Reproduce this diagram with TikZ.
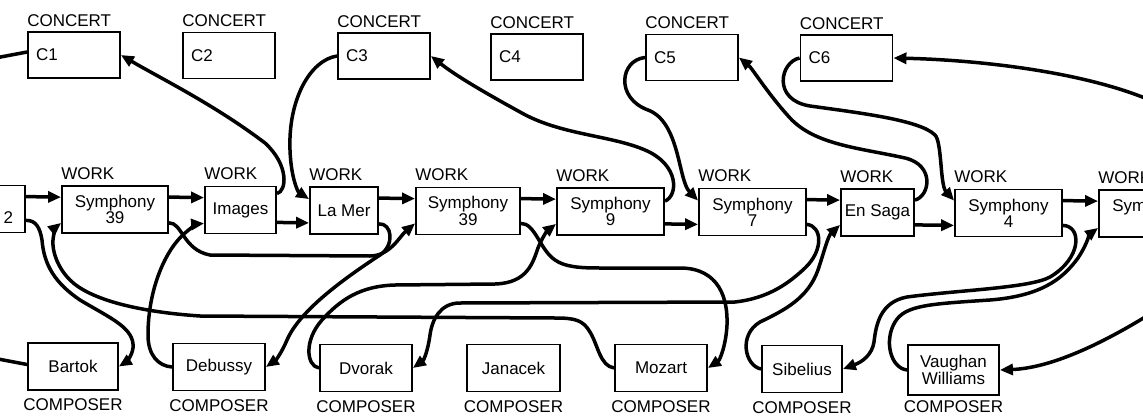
\documentclass[tikz,border=0pt]{standalone}
\usepackage{fontspec}
\setmainfont{Liberation Sans}
\usetikzlibrary{arrows.meta,calc}
\begin{document}
\begin{tikzpicture}[x=1pt,y=-1pt,
  box/.style={draw,line width=1.8pt,minimum height=47pt,inner sep=0pt,
    align=center,font=\fontsize{17}{15}\selectfont},
  concert/.style={draw,line width=1.8pt,minimum height=46pt,inner xsep=8pt,
    inner ysep=0pt,text width=76pt,align=left,font=\fontsize{17}{15}\selectfont},
  tag/.style={inner sep=0pt,font=\fontsize{17}{15}\selectfont},
  link/.style={line width=3.5pt,line join=round},
  arr/.style={link,-{Triangle[length=13pt,width=11pt]}}]

\useasboundingbox (0,0) rectangle (1143,415);
\fill[white] (0,0) rectangle (1143,415);
\clip (0,0) rectangle (1143,415);

% concerts
\node[concert] (C1) at (74,55)    {C1};
\node[concert] (C2) at (229,55.5) {C2};
\node[concert] (C3) at (384,56)   {C3};
\node[concert] (C4) at (537,57)   {C4};
\node[concert] (C5) at (692,57.5) {C5};
\node[concert] (C6) at (846.5,58) {C6};
\foreach \c in {C1,C2,C3,C4,C5,C6}
  \node[tag,anchor=base west] (l\c) at ([yshift=5pt]\c.north west) {CONCERT};

% works
\node[box,minimum width=107pt,text width=83pt,align=right] (W0) at (-28.5,209) {\vphantom{Sy}\\2};
\node[box,minimum width=106pt] (W1) at (115,209.5)  {Symphony\\39};
\node[box,minimum width=71pt]  (W2) at (240.5,210)  {Images};
\node[box,minimum width=68pt]  (W3) at (344,210.5)  {La Mer};
\node[box,minimum width=104pt] (W4) at (468,211)    {Symphony\\39};
\node[box,minimum width=107pt] (W5) at (610.5,211.5){Symphony\\9};
\node[box,minimum width=107pt] (W6) at (752.5,212)  {Symphony\\7};
\node[box,minimum width=73pt]  (W7) at (877.5,212.5){En Saga};
\node[box,minimum width=107pt] (W8) at (1008.5,213) {Symphony\\4};
\node[box,minimum width=107pt] (W9) at (1152.5,213.5){Symphony\\\vphantom{4}};
\foreach \w in {W1,W2,W3,W4,W5,W6,W7,W8,W9}
  \node[tag,anchor=base west] (l\w) at ([yshift=6pt]\w.north west) {WORK};

% composers
\node[box,minimum width=90pt] (P1) at (73,366.5) {Bartok};
\node[box,minimum width=92pt] (P2) at (219,367)  {Debussy};
\node[box,minimum width=92pt] (P3) at (366,368)  {Dvorak};
\node[box,minimum width=93pt] (P4) at (513.5,368){Janacek};
\node[box,minimum width=92pt] (P5) at (661,368)  {Mozart};
\node[box,minimum width=80pt] (P6) at (802,369)  {Sibelius};
\node[box,minimum width=91pt,minimum height=50pt,font=\fontsize{17}{17}\selectfont]
  (P7) at (953.5,370) {Vaughan\\Williams};
\foreach \p in {P1,P2,P3,P4,P5,P6}
  \node[tag,anchor=north] (l\p) at ([yshift=-8pt]\p.south) {COMPOSER};
\node[tag,anchor=north] (lP7) at ([yshift=-4.5pt]P7.south) {COMPOSER};

% free ends of chains running past the edges
\coordinate (eC1) at (-2,57.5);
\coordinate (eP1) at (-2,359);
\coordinate (eC6) at (1152,101);
\coordinate (eP7) at (1150,314);

% concert chains (upper links)
\draw[link] (eC1) -- ($(C1.west)+(0,-3)$);
\draw[arr] ($(W0.north east)+(0,12)$) -- ($(W1.north west)+(0,12)$);
\draw[arr] ($(W1.north east)+(0,12)$) -- ($(W2.north west)+(0,12)$);
\draw[arr] ($(W2.north east)+(0,8)$) .. controls (287,191) and (289,165) .. (265,143)
  .. controls (215,105) and (160,78) .. (C1.east);

\draw[arr] (C3.west) .. controls (310,60) and (288,100) .. (290,150)
  .. controls (291,178) and (298,192) .. ($(W3.north west)+(0,13)$);
\draw[arr] ($(W3.north east)+(0,12)$) -- ($(W4.north west)+(0,12)$);
\draw[arr] ($(W4.north east)+(0,12)$) -- ($(W5.north west)+(0,12)$);
\draw[arr] ($(W5.north east)+(0,14)$) .. controls (678,196) and (680,165) .. (645,150)
  .. controls (610,135) and (560,135) .. (520,112)
  .. controls (480,90) and (455,75) .. (C3.east);

\draw[arr] (C5.west) .. controls (620,60) and (615,98) .. (648,110)
  .. controls (680,122) and (678,180) .. ($(W6.north west)+(0,13)$);
\draw[arr] ($(W6.north east)+(0,12)$) -- ($(W7.north west)+(0,12)$);
\draw[arr] ($(W7.north east)+(0,12)$) .. controls (930,196) and (935,165) .. (905,158)
  .. controls (860,148) and (815,145) .. (790,118)
  .. controls (768,94) and (752,68) .. (C5.east);

\draw[arr] (C6.west) .. controls (780,62) and (772,100) .. (810,106)
  .. controls (860,113) and (920,120) .. (935,135)
  .. controls (942,142) and (940,185) .. ($(W8.north west)+(0,12)$);
\draw[arr] ($(W8.north east)+(0,12)$) -- ($(W9.north west)+(0,12)$);
\draw[arr] (eC6) .. controls (1085,72) and (980,60) .. (C6.east);

% composer chains (lower links)
\draw[link] (eP1) -- ($(P1.west)+(0,-2)$);
\draw[arr] ($(W0.south east)+(0,-13)$) .. controls (36,220) and (40,228) .. (42,240)
  .. controls (44,265) and (55,283) .. (80,300)
  .. controls (110,318) and (135,328) .. (133,348)
  .. controls (132,356) and (126,362) .. (P1.east);

\draw[arr] (P2.west) .. controls (158,366) and (148,355) .. (148,335)
  .. controls (148,290) and (165,250) .. (185,233)
  .. controls (192,227) and (197,224) .. ($(W2.south west)+(0,-11)$);
\draw[arr] ($(W2.south east)+(0,-12)$) -- ($(W3.south west)+(0,-12)$);
\draw[arr] ($(W3.south east)+(0,-11)$) .. controls (392,223) and (395,245) .. (380,255)
  .. controls (345,278) and (300,310) .. (287,340)
  .. controls (282,352) and (276,360) .. (P2.east);

\draw[arr] (P5.west) .. controls (600,366) and (598,345) .. (590,332)
  .. controls (583,320) and (575,318) .. (555,318) -- (200,316)
  .. controls (140,312) and (90,300) .. (70,280)
  .. controls (58,268) and (52,252) .. (53,240)
  .. controls (54,231) and (56,227) .. ($(W1.south west)+(0,-11)$);
\draw[arr] ($(W1.south east)+(0,-11)$) .. controls (182,222) and (183,250) .. (210,255)
  -- (370,256) .. controls (390,256) and (400,236) .. ($(W4.south west)+(0,-12)$);
\draw[arr] ($(W4.south east)+(0,-12)$) .. controls (535,223) and (540,250) .. (555,260)
  .. controls (565,267) and (580,268) .. (600,268) -- (680,268)
  .. controls (720,268) and (728,300) .. (727,325)
  .. controls (726,345) and (720,360) .. (P5.east);

\draw[arr] (P3.west) .. controls (306,366) and (304,340) .. (322,320)
  .. controls (340,300) and (360,286) .. (395,285) -- (495,284)
  .. controls (528,283) and (533,262) .. (538,248)
  .. controls (542,238) and (547,231) .. ($(W5.south west)+(0,-12)$);
\draw[arr] ($(W5.south east)+(0,-12)$) -- ($(W6.south west)+(0,-12)$);
\draw[arr] ($(W6.south east)+(0,-12)$) .. controls (822,226) and (824,250) .. (805,268)
  .. controls (790,282) and (770,298) .. (735,302) -- (460,303)
  .. controls (440,303) and (432,320) .. (430,335)
  .. controls (428,350) and (424,360) .. (P3.east);

\draw[arr] (P6.west) .. controls (745,366) and (738,335) .. (760,322)
  .. controls (785,310) and (808,298) .. (818,270)
  .. controls (824,252) and (828,236) .. ($(W7.south west)+(0,-12)$);
\draw[arr] ($(W7.south east)+(0,-12)$) -- ($(W8.south west)+(0,-12)$);
\draw[arr] ($(W8.south east)+(0,-12)$) .. controls (1082,226) and (1082,258) .. (1050,277)
  .. controls (1030,288) and (960,290) .. (907,297)
  .. controls (880,302) and (876,325) .. (874,342)
  .. controls (872,355) and (862,362) .. (P6.east);

\draw[arr] (P7.west) .. controls (890,368) and (884,340) .. (895,322)
  .. controls (905,305) and (930,304) .. (990,300)
  .. controls (1040,296) and (1062,280) .. (1078,258)
  .. controls (1086,246) and (1090,234) .. ($(W9.south west)+(0,-10)$);
\draw[arr] (eP7) .. controls (1100,345) and (1050,368) .. (P7.east);

\end{tikzpicture}
\end{document}
